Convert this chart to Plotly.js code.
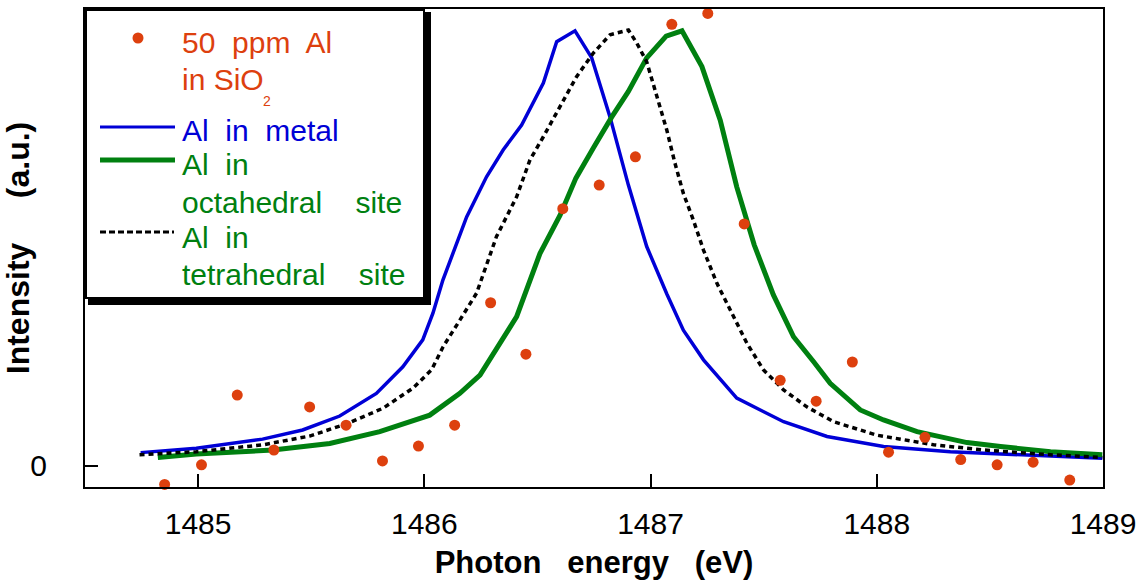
<!DOCTYPE html>
<html>
<head>
<meta charset="utf-8">
<script src="https://cdn.plot.ly/plotly-3.0.1.min.js"></script>
<style>
  html, body { margin: 0; padding: 0; background: #fff; }
  #chart { width: 1145px; height: 580px; }
</style>
</head>
<body>
<div id="chart"></div>
<script>
// ---- Data (photon energy in eV, intensity in a.u.) ----
const measuredEnergy = [1484.852, 1485.015, 1485.173, 1485.335, 1485.493, 1485.654, 1485.815, 1485.974,
  1486.134, 1486.293, 1486.449, 1486.612, 1486.773, 1486.933, 1487.094, 1487.253, 1487.414, 1487.573,
  1487.732, 1487.892, 1488.052, 1488.213, 1488.371, 1488.532, 1488.691, 1488.853];
const measuredIntensity = [-0.043, 0.002, 0.162, 0.036, 0.135, 0.093, 0.011, 0.045,
  0.093, 0.374, 0.256, 0.590, 0.644, 0.709, 1.013, 1.038, 0.555, 0.196,
  0.148, 0.238, 0.031, 0.065, 0.014, 0.002, 0.008, -0.033];

const metalEnergy = [1484.746, 1484.992, 1485.285, 1485.462, 1485.626, 1485.788, 1485.905, 1485.993,
  1486.038, 1486.082, 1486.187, 1486.275, 1486.349, 1486.430, 1486.526, 1486.585, 1486.666, 1486.740,
  1486.821, 1486.902, 1486.983, 1487.072, 1487.145, 1487.234, 1487.381, 1487.588, 1487.780, 1488.030,
  1488.325, 1488.620, 1488.997];
const metalIntensity = [0.030, 0.040, 0.061, 0.082, 0.114, 0.166, 0.227, 0.289,
  0.350, 0.426, 0.571, 0.663, 0.725, 0.782, 0.878, 0.973, 0.998, 0.936,
  0.800, 0.644, 0.503, 0.394, 0.311, 0.243, 0.155, 0.101, 0.067, 0.044,
  0.032, 0.025, 0.017];

const octaEnergy = [1484.822, 1484.992, 1485.331, 1485.582, 1485.803, 1486.024, 1486.157, 1486.246,
  1486.408, 1486.511, 1486.600, 1486.670, 1486.747, 1486.828, 1486.902, 1486.983, 1487.069, 1487.139,
  1487.227, 1487.308, 1487.381, 1487.458, 1487.543, 1487.632, 1487.720, 1487.794, 1487.927, 1488.030,
  1488.178, 1488.399, 1488.547, 1488.768, 1488.997];
const octaIntensity = [0.019, 0.027, 0.036, 0.051, 0.078, 0.116, 0.166, 0.208,
  0.342, 0.487, 0.575, 0.660, 0.729, 0.800, 0.859, 0.936, 0.986, 0.998,
  0.916, 0.793, 0.640, 0.507, 0.392, 0.296, 0.239, 0.189, 0.128, 0.105,
  0.078, 0.053, 0.044, 0.032, 0.025];

const tetraEnergy = [1484.741, 1484.992, 1485.287, 1485.493, 1485.656, 1485.818, 1485.950, 1486.032,
  1486.083, 1486.127, 1486.157, 1486.231, 1486.319, 1486.408, 1486.467, 1486.526, 1486.600, 1486.673,
  1486.747, 1486.821, 1486.902, 1486.939, 1486.983, 1487.027, 1487.072, 1487.108, 1487.145, 1487.189,
  1487.234, 1487.293, 1487.366, 1487.426, 1487.499, 1487.588, 1487.691, 1487.809, 1488.001, 1488.251,
  1488.473, 1488.768, 1488.997];
const tetraIntensity = [0.025, 0.032, 0.048, 0.068, 0.096, 0.132, 0.178, 0.220,
  0.273, 0.311, 0.334, 0.396, 0.526, 0.617, 0.702, 0.755, 0.824, 0.893,
  0.947, 0.989, 1.000, 0.970, 0.927, 0.847, 0.770, 0.694, 0.625, 0.564,
  0.495, 0.419, 0.342, 0.281, 0.220, 0.174, 0.135, 0.101, 0.070, 0.048,
  0.036, 0.025, 0.019];

const xTickVals = [1485, 1486, 1487, 1488, 1489];
const xTickText = ["1485", "1486", "1487", "1488", "1489"];
const yTickVals = [0];
const yTickText = ["0"];

// ---- Styling ----
const RED = "rgb(221,64,14)";
const BLUE = "rgb(0,0,214)";
const GREEN = "rgb(0,128,16)";
const FONT = "Liberation Sans, Arial, Helvetica, sans-serif";

const W = 1145, H = 580;
const M = { l: 85, r: 42, t: 9, b: 93 };
const PW = W - M.l - M.r, PH = H - M.t - M.b;
const PX = px => (px - M.l) / PW;       // page px -> paper x
const PY = py => (H - M.b - py) / PH;   // page px -> paper y

const traces = [
  { x: metalEnergy, y: metalIntensity, name: "Al in metal", mode: "lines",
    line: { color: BLUE, width: 3.5 }, showlegend: false },
  { x: octaEnergy, y: octaIntensity, name: "Al in octahedral site", mode: "lines",
    line: { color: GREEN, width: 5 }, showlegend: false },
  { x: tetraEnergy, y: tetraIntensity, name: "Al in tetrahedral site", mode: "lines",
    line: { color: "#000", width: 3.5, dash: "5px,4px" }, showlegend: false },
  { x: measuredEnergy, y: measuredIntensity, name: "50 ppm Al in SiO2", mode: "markers",
    marker: { color: RED, size: 11 }, showlegend: false, cliponaxis: false }
];

const legendFont = (c) => ({ family: FONT, size: 30, color: c });
const ann = (text, px, py, color, size) => ({
  text, xref: "paper", yref: "paper", x: PX(px), y: PY(py),
  xanchor: "left", yanchor: "middle", showarrow: false,
  font: size ? { family: FONT, size, color } : legendFont(color)
});

const annotations = [
  ann("50\u00a0 ppm\u00a0 Al", 180, 42, RED),
  ann("in SiO", 180, 79, RED),
  ann("2", 261, 101, RED, 14),
  ann("Al\u00a0 in\u00a0 metal", 180, 130, BLUE),
  ann("Al\u00a0 in", 180, 165, GREEN),
  ann("octahedral\u00a0\u00a0\u00a0 site", 180, 202, GREEN),
  ann("Al\u00a0 in", 180, 237, GREEN),
  ann("tetrahedral\u00a0\u00a0\u00a0 site", 180, 274, GREEN)
];

const shapes = [
  // legend shadow
  { type: "rect", xref: "paper", yref: "paper", x0: PX(88), x1: PX(431), y0: PY(305), y1: PY(12),
    fillcolor: "#000", line: { width: 0 }, layer: "above" },
  // legend box
  { type: "rect", xref: "paper", yref: "paper", x0: PX(86), x1: PX(424), y0: PY(298), y1: PY(10),
    fillcolor: "#fff", line: { color: "#000", width: 2 }, layer: "above" },
  // legend samples
  { type: "circle", xref: "paper", yref: "paper", x0: PX(132.5), x1: PX(143.5), y0: PY(43.5), y1: PY(32.5),
    fillcolor: RED, line: { width: 0 }, layer: "above" },
  { type: "line", xref: "paper", yref: "paper", x0: PX(100), x1: PX(175), y0: PY(127), y1: PY(127),
    line: { color: BLUE, width: 3 }, layer: "above" },
  { type: "line", xref: "paper", yref: "paper", x0: PX(100), x1: PX(175), y0: PY(160), y1: PY(160),
    line: { color: GREEN, width: 5 }, layer: "above" },
  { type: "line", xref: "paper", yref: "paper", x0: PX(100), x1: PX(174), y0: PY(232), y1: PY(232),
    line: { color: "#000", width: 3, dash: "6px,3px" }, layer: "above" }
];

const layout = {
  width: W, height: H,
  margin: M,
  paper_bgcolor: "#fff", plot_bgcolor: "#fff",
  showlegend: false,
  xaxis: {
    range: [1484.5, 1489],
    tickmode: "array", tickvals: xTickVals, ticktext: xTickText,
    ticks: "inside", ticklen: 13, tickwidth: 2, tickcolor: "#000",
    showline: true, linecolor: "#000", linewidth: 2, mirror: true,
    showgrid: false, zeroline: false,
    ticklabelstandoff: 9,
    tickfont: { family: FONT, size: 30, color: "#000" },
    title: { text: "Photon\u00a0\u00a0 energy\u00a0\u00a0 (eV)", standoff: 12,
      font: { family: FONT, size: 31, color: "#000", weight: "bold" } }
  },
  yaxis: {
    range: [-0.0489, 1.0482],
    tickmode: "array", tickvals: yTickVals, ticktext: yTickText,
    ticks: "inside", ticklen: 13, tickwidth: 2, tickcolor: "#000",
    showline: true, linecolor: "#000", linewidth: 2, mirror: true,
    showgrid: false, zeroline: false,
    ticklabelstandoff: 30,
    tickfont: { family: FONT, size: 30, color: "#000" },
    title: { text: "\u00a0\u00a0Intensity\u00a0\u00a0\u00a0\u00a0 (a.u.)", standoff: 0,
      font: { family: FONT, size: 32, color: "#000", weight: "bold" } }
  },
  shapes, annotations
};

Plotly.newPlot("chart", traces, layout, { staticPlot: true, displayModeBar: false });
</script>
</body>
</html>
